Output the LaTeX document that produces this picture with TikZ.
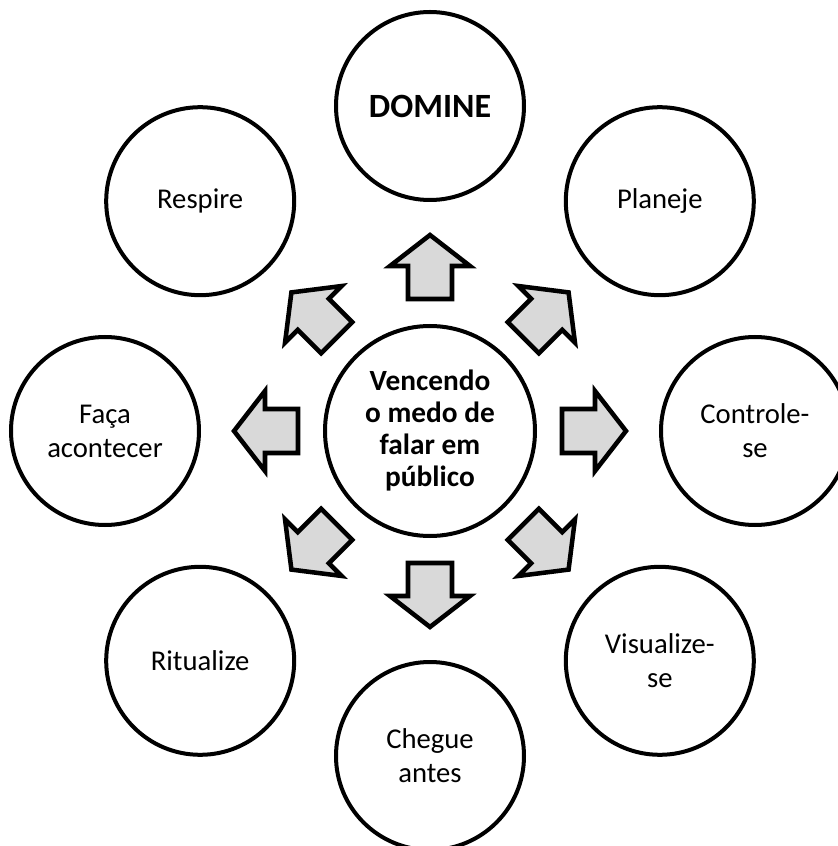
\documentclass[tikz,border=0pt]{standalone}
\usepackage{fontspec}
\setmainfont{Carlito}
\usepackage{tikz}
\definecolor{softgray}{HTML}{D9D9D9}

\begin{document}
\begin{tikzpicture}[x=0.75pt,y=0.75pt]
\tikzset{ring/.style={draw,circle,line width=3pt,minimum size=141pt,inner sep=0pt,align=center,font=\fontsize{21.5}{25.5}\selectfont},
blockarrow/.style={draw,line width=3.4pt,fill=softgray,line join=miter}}
\clip (-430,-415) rectangle (408,431);
\node[ring,minimum size=157.5pt,font=\bfseries\fontsize{22}{24}\selectfont] (ctr) at (0,0) {Vencendo\\o medo de\\falar em\\público};
\node[ring,font=\bfseries\fontsize{25.5}{30}\selectfont] (domine) at (90:325) {DOMINE};
\node[ring] (planeje) at (45:325) {Planeje};
\node[ring] (controle) at (0:325) {Controle-\\se};
\node[ring] (visualize) at (-45:325) {Visualize-\\se};
\node[ring] (chegue) at (-90:325) {Chegue\\antes};
\node[ring] (ritualize) at (-135:325) {Ritualize};
\node[ring] (faca) at (180:325) {Faça\\acontecer};
\node[ring] (respire) at (135:325) {Respire};
\foreach \a in {0,45,...,315}{
\begin{scope}[shift={(ctr.center)},rotate=\a]
\draw[blockarrow] (132,-22) -- (165,-22) -- (165,-40) -- (196,0) -- (165,40) -- (165,22) -- (132,22) -- cycle;
\end{scope}}
\end{tikzpicture}
\end{document}
